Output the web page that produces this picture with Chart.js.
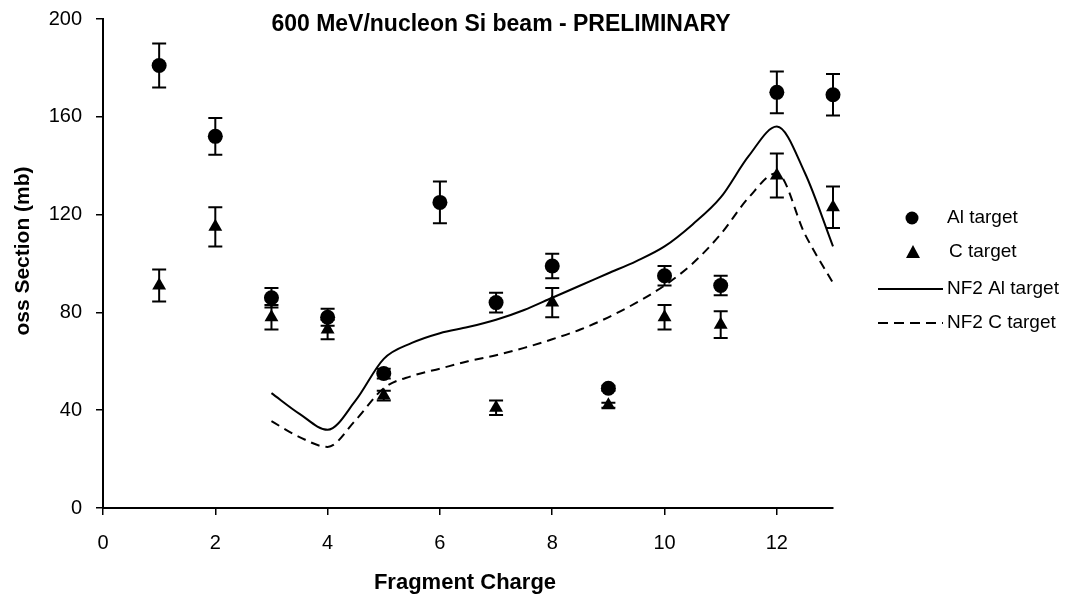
<!DOCTYPE html>
<html>
<head>
<meta charset="utf-8">
<script src="https://cdn.jsdelivr.net/npm/chart.js@4.4.1/dist/chart.umd.min.js"></script>
<style>
  html, body { margin: 0; padding: 0; background: #fff; }
  #wrap { width: 1068px; height: 594px; }
</style>
</head>
<body>
<div id="wrap"><canvas id="chart"></canvas></div>
<script>
// measured cross sections (mb) per fragment charge
const charges  = [1, 2, 3, 4, 5, 6, 7, 8, 9, 10, 11, 12, 13];
const alTarget = [181, 152, 86, 78, 55, 125, 84, 99, 49, 95, 91, 170, 169];
const alError  = [9, 7.5, 4, 3.5, 2, 8.5, 4, 5, 1, 4, 4, 8.5, 8.5];
const cTarget  = [91, 115, 78, 73, 46, null, 41, 84, 42, 78, 75, 136, 123];
const cError   = [6.5, 8, 5, 4, 2, null, 3, 6, 1, 5, 5.5, 9, 8.5];

// NF2 model curves
const modelCharges = [3, 3.5, 4, 4.5, 5, 5.5, 6, 6.5, 7, 7.5, 8, 8.5, 9, 9.5, 10, 10.5, 11, 11.5, 12, 12.5, 13];
const nf2Al = [47, 38.5, 32, 44, 61, 67.5, 71.5, 74, 77, 81, 86, 91, 96, 101, 107, 116, 127, 144, 156, 137, 107];
const nf2C  = [35.5, 29, 25, 36, 49, 54, 57, 60, 62.5, 65.5, 69, 73, 78, 84, 91, 100, 112, 127, 137, 112, 92];

const xTickValues = [0, 2, 4, 6, 8, 10, 12];

const FONT = "'Liberation Sans', Arial, sans-serif";
Chart.defaults.font.family = FONT;
Chart.defaults.color = '#000';

function toPoints(xs, ys) {
    return xs.map((x, i) => ({ x: x, y: ys[i] }));
}

// error bars drawn through the chart scales
const errorBars = {
    id: 'errorBars',
    afterDatasetsDraw(chart) {
        const ctx = chart.ctx;
        const xs = chart.scales.x, ys = chart.scales.y;
        const sets = [[alTarget, alError], [cTarget, cError]];
        ctx.save();
        ctx.strokeStyle = '#000';
        ctx.lineWidth = 2;
        sets.forEach(([vals, errs]) => {
            charges.forEach((c, i) => {
                if (vals[i] == null || errs[i] == null) return;
                const px = xs.getPixelForValue(c);
                const top = ys.getPixelForValue(vals[i] + errs[i]);
                const bot = ys.getPixelForValue(vals[i] - errs[i]);
                ctx.beginPath();
                ctx.moveTo(px, top); ctx.lineTo(px, bot);
                ctx.moveTo(px - 7, top); ctx.lineTo(px + 7, top);
                ctx.moveTo(px - 7, bot); ctx.lineTo(px + 7, bot);
                ctx.stroke();
            });
        });
        ctx.restore();
    }
};

// title, axis titles and legend placed like the original
const labels = {
    id: 'labels',
    afterDraw(chart) {
        const ctx = chart.ctx;
        ctx.save();
        ctx.fillStyle = '#000';
        ctx.textBaseline = 'middle';

        ctx.font = 'bold 23px ' + FONT;
        ctx.textAlign = 'center';
        ctx.fillText('600 MeV/nucleon Si beam - PRELIMINARY', 501, 25);

        ctx.font = 'bold 22px ' + FONT;
        ctx.fillText('Fragment Charge', 465, 583);

        ctx.font = 'bold 21px ' + FONT;
        ctx.save();
        ctx.translate(23, 251);
        ctx.rotate(-Math.PI / 2);
        ctx.fillText('oss Section (mb)', 0, 0);
        ctx.restore();

        // legend
        ctx.font = '19px ' + FONT;
        ctx.textAlign = 'left';
        ctx.beginPath();
        ctx.arc(912, 218, 6.5, 0, Math.PI * 2);
        ctx.fill();
        ctx.fillText('Al target', 947, 218);

        ctx.beginPath();
        ctx.moveTo(913, 245); ctx.lineTo(920, 258); ctx.lineTo(906, 258);
        ctx.closePath();
        ctx.fill();
        ctx.fillText('C target', 949, 252);

        ctx.strokeStyle = '#000';
        ctx.lineWidth = 2;
        ctx.beginPath();
        ctx.moveTo(878, 289); ctx.lineTo(943, 289);
        ctx.stroke();
        ctx.fillText('NF2 Al target', 947, 289);

        ctx.setLineDash([10, 6]);
        ctx.beginPath();
        ctx.moveTo(878, 323); ctx.lineTo(943, 323);
        ctx.stroke();
        ctx.setLineDash([]);
        ctx.fillText('NF2 C target', 947, 323);
        ctx.restore();
    }
};

new Chart(document.getElementById('chart'), {
    type: 'scatter',
    data: {
        datasets: [{
            label: 'Al target',
            data: toPoints(charges, alTarget),
            pointStyle: 'circle',
            pointRadius: 7.5,
            backgroundColor: '#000',
            borderColor: '#000',
            borderWidth: 0,
            clip: false
        }, {
            label: 'C target',
            data: toPoints(charges, cTarget),
            pointStyle: 'triangle',
            pointRadius: 8,
            backgroundColor: '#000',
            borderColor: '#000',
            borderWidth: 0,
            clip: false
        }, {
            label: 'NF2 Al target',
            data: toPoints(modelCharges, nf2Al),
            showLine: true,
            pointRadius: 0,
            borderColor: '#000',
            borderWidth: 2,
            cubicInterpolationMode: 'monotone',
            clip: false
        }, {
            label: 'NF2 C target',
            data: toPoints(modelCharges, nf2C),
            showLine: true,
            pointRadius: 0,
            borderColor: '#000',
            borderWidth: 2,
            borderDash: [9, 6],
            cubicInterpolationMode: 'monotone',
            clip: false
        }]
    },
    options: {
        responsive: true,
        maintainAspectRatio: false,
        animation: false,
        layout: { padding: { top: 19, right: 235, bottom: 0, left: 0 } },
        plugins: {
            legend: { display: false },
            title: { display: false },
            tooltip: { enabled: false }
        },
        scales: {
            x: {
                type: 'linear',
                min: 0,
                max: 13,
                afterBuildTicks: (scale) => {
                    scale.ticks = xTickValues.map(v => ({ value: v }));
                },
                afterFit: (scale) => { scale.height = 86; },
                grid: { drawOnChartArea: false, drawTicks: true, tickLength: 7, color: '#000', lineWidth: 1.5 },
                border: { display: true, color: '#000', width: 2 },
                ticks: { font: { size: 20 }, padding: 16, maxRotation: 0 }
            },
            y: {
                min: 0,
                max: 200,
                afterFit: (scale) => { scale.width = 103; },
                grid: { drawOnChartArea: false, drawTicks: true, tickLength: 7, color: '#000', lineWidth: 1.5 },
                border: { display: true, color: '#000', width: 2 },
                ticks: { stepSize: 40, font: { size: 20, lineHeight: 0.2 }, padding: 14 }
            }
        }
    },
    plugins: [errorBars, labels]
});
</script>
</body>
</html>
